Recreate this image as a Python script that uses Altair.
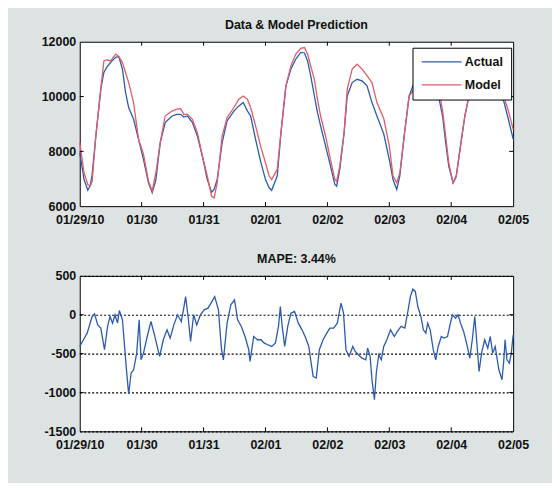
import altair as alt
import pandas as pd

# ---------------- data ----------------
tick_labels = ["01/29/10", "01/30", "01/31", "02/01", "02/02", "02/03", "02/04", "02/05"]

days = [0.00, 0.07, 0.13, 0.17, 0.20, 0.26, 0.34, 0.39, 0.44, 0.50, 0.58, 0.63, 0.69, 0.74,
        0.79, 0.87, 0.95, 1.03, 1.11, 1.17, 1.23, 1.30, 1.38, 1.49, 1.57, 1.63, 1.68, 1.74,
        1.82, 1.90, 1.98, 2.06, 2.13, 2.17, 2.22, 2.30, 2.38, 2.49, 2.57, 2.64, 2.71, 2.76,
        2.84, 2.92, 3.00, 3.06, 3.10, 3.19, 3.25, 3.33, 3.41, 3.49, 3.57, 3.63, 3.68, 3.73,
        3.79, 3.84, 3.89, 3.97, 4.05, 4.12, 4.15, 4.20, 4.27, 4.32, 4.40, 4.48, 4.56, 4.64,
        4.72, 4.80, 4.91, 5.00, 5.06, 5.12, 5.17, 5.24, 5.32, 5.40, 5.50, 5.60, 5.70, 5.80,
        5.86, 5.91, 5.96, 6.03, 6.08, 6.15, 6.22, 6.28, 6.40, 6.55, 6.70, 6.85, 6.92, 7.00]

actual = [7950, 6970, 6580, 6750, 7150, 8560, 10270, 10880, 11080, 11250, 11430, 11460, 11000, 10150,
          9600, 9170, 8440, 7700, 6850, 6490, 6970, 8320, 9050, 9290, 9350, 9350, 9250, 9290,
          9050, 8560, 7830, 6970, 6510, 6610, 6970, 8320, 9110, 9470, 9660, 9780, 9470, 9290,
          8440, 7640, 6970, 6670, 6580, 7100, 8680, 10390, 11000, 11370, 11610, 11590, 11300, 10760,
          10020, 9410, 8930, 8200, 7460, 6790, 6730, 7340, 8680, 10020, 10510, 10630, 10570, 10390,
          9780, 9290, 8640, 7700, 6970, 6610, 7100, 8560, 10020, 10500, 10750, 10650, 10450, 9960,
          9290, 8320, 7460, 6850, 7100, 8200, 9290, 9960, 10600, 10550, 10300, 9820, 9200, 8450]

model = [8320, 7220, 6790, 6730, 6900, 8560, 10270, 11300, 11340, 11300, 11550, 11460, 11240, 10880,
         10510, 9780, 8440, 7890, 6910, 6550, 7220, 8320, 9290, 9470, 9540, 9560, 9350, 9350,
         9170, 8680, 7830, 7100, 6360, 6300, 6850, 8560, 9230, 9600, 9900, 10020, 9900, 9600,
         8930, 8200, 7580, 7100, 6970, 7340, 8680, 10390, 11120, 11550, 11760, 11790, 11550, 11120,
         10630, 9900, 9290, 8560, 7700, 6970, 6910, 7460, 8680, 10270, 11000, 11180, 11000, 10760,
         10510, 9780, 9200, 8200, 7100, 6850, 7220, 8560, 10020, 10250, 10700, 10750, 10800, 10250,
         9500, 8560, 7580, 6850, 7050, 8200, 9290, 9960, 10900, 10950, 10800, 10000, 9500, 8800]

err_days = [0.00, 0.06, 0.12, 0.20, 0.24, 0.29, 0.34, 0.40, 0.45, 0.49, 0.53, 0.57, 0.61, 0.64,
            0.69, 0.75, 0.79, 0.83, 0.87, 0.92, 0.96, 0.99, 1.03, 1.09, 1.15, 1.20, 1.29, 1.35,
            1.41, 1.46, 1.52, 1.58, 1.64, 1.68, 1.71, 1.75, 1.79, 1.84, 1.89, 1.95, 2.01, 2.07,
            2.12, 2.18, 2.24, 2.29, 2.32, 2.38, 2.44, 2.50, 2.55, 2.61, 2.67, 2.73, 2.75, 2.81,
            2.87, 2.93, 2.98, 3.04, 3.10, 3.16, 3.21, 3.24, 3.27, 3.31, 3.36, 3.41, 3.47, 3.53,
            3.59, 3.64, 3.70, 3.73, 3.77, 3.82, 3.87, 3.93, 3.99, 4.04, 4.10, 4.16, 4.22, 4.26,
            4.30, 4.35, 4.41, 4.45, 4.50, 4.56, 4.62, 4.65, 4.69, 4.72, 4.76, 4.79, 4.83, 4.87,
            4.91, 4.96, 5.02, 5.08, 5.13, 5.19, 5.25, 5.30, 5.34, 5.38, 5.42, 5.46, 5.51, 5.55,
            5.59, 5.62, 5.66, 5.71, 5.75, 5.79, 5.84, 5.88, 5.94, 5.98, 6.02, 6.07, 6.11, 6.15,
            6.20, 6.26, 6.30, 6.34, 6.38, 6.41, 6.45, 6.49, 6.54, 6.59, 6.63, 6.67, 6.71, 6.77,
            6.82, 6.85, 6.87, 6.90, 6.94, 6.97, 7.00]

err_vals = [-408, -322, -237, -22, 12, -130, -172, -450, -150, -22, -108, 0, -108, 55,
            -65, -665, -1020, -750, -708, -494, -65, -580, -494, -280, -87, -237, -536, -322,
            -194, -300, -130, 0, -87, 85, 234, -22, -344, 0, -130, 0, 63, 85,
            149, 234, 63, -450, -580, -108, 127, 192, -65, -151, -280, -450, -600, -280,
            -322, -322, -365, -386, -408, -365, -150, 106, -150, -408, -150, 20, 42, -108,
            -194, -280, -408, -580, -794, -815, -450, -322, -237, -172, -172, -108, 149, 20,
            -450, -536, -408, -472, -515, -558, -580, -430, -536, -836, -1093, -750, -515, -580,
            -408, -322, -194, -280, -215, -150, -172, 42, 234, 329, 300, 106, -22, -194,
            -237, -108, -194, -450, -580, -408, -280, -300, -280, -130, 0, -44, 0, -108,
            -215, -408, -558, -322, -22, -322, -730, -494, -322, -430, -280, -494, -408, -708,
            -836, -580, -322, -580, -622, -494, -258]

top_yticks = [6000, 8000, 10000, 12000]
bot_yticks = [-1500, -1000, -500, 0, 500]
series_names = ["Actual", "Model"]

# ---------------- style ----------------
FONT = "Liberation Sans"
WEIGHT = "bold"
BLUE = "#2b5bb0"
RED = "#e25c68"
BG = "#dde3e2"
W, H1, H2 = 435, 165, 156
TICK = 4

label_expr = "[" + ",".join("'%s'" % t for t in tick_labels) + "][round(datum.value)]"


def x_enc():
    return alt.X("day:Q", scale=alt.Scale(domain=[0, 7], nice=False, zero=False),
                 axis=alt.Axis(values=list(range(len(tick_labels))), labelExpr=label_expr,
                               ticks=False, domain=False, grid=False, labelFlush=False,
                               labelPadding=7, title=None, labelFontSize=12.5,
                               labelFontWeight=WEIGHT, labelColor="#111111", labelFont=FONT,
                               labelOverlap=False))


def y_enc(dom, vals, grid):
    ax = dict(values=vals, labelExpr="'' + round(datum.value)", ticks=False, domain=False,
              labelFlush=False, labelPadding=4, title=None, labelFontSize=12.5,
              labelColor="#111111", labelFontWeight=WEIGHT, labelFont=FONT,
              minExtent=40, maxExtent=40, grid=grid)
    if grid:
        ax.update(gridColor="black", gridDash=[2, 2], gridWidth=1.2, gridOpacity=1)
    return alt.Y("value:Q", scale=alt.Scale(domain=dom, nice=False, zero=False),
                 axis=alt.Axis(**ax))


def tick_layers(ydom, yvals, ygrid, h):
    inner_x = pd.DataFrame({"day": list(range(1, len(tick_labels) - 1))})
    inner_y = pd.DataFrame({"value": yvals[1:-1]})
    base_x = alt.Chart(inner_x).mark_rule(color="black", strokeWidth=1)
    base_y = alt.Chart(inner_y).mark_rule(color="black", strokeWidth=1)
    return [
        base_x.encode(x=x_enc(), y=alt.value(0), y2=alt.value(TICK)),
        base_x.encode(x=x_enc(), y=alt.value(h - TICK), y2=alt.value(h)),
        base_y.encode(y=y_enc(ydom, yvals, ygrid), x=alt.value(0), x2=alt.value(TICK)),
        base_y.encode(y=y_enc(ydom, yvals, ygrid), x=alt.value(W - TICK), x2=alt.value(W)),
    ]


def title(text):
    return alt.TitleParams(text, anchor="middle", frame="group", baseline="bottom", offset=-9,
                           fontSize=12.5, font=FONT, fontWeight=WEIGHT, color="#111111")


# ---------------- top panel ----------------
top_df = pd.DataFrame({
    "day": days * 2,
    "value": actual + model,
    "series": ["Actual"] * len(days) + ["Model"] * len(days),
})

color = alt.Color("series:N",
                  scale=alt.Scale(domain=series_names, range=[BLUE, RED]),
                  legend=alt.Legend(orient="none", legendX=334, legendY=6, title=None,
                                    fillColor="white", strokeColor="black", padding=8,
                                    symbolType="M-1,0L7,0", symbolSize=100,
                                    symbolStrokeWidth=1.3, labelOffset=32, rowPadding=10,
                                    labelFontSize=12.5, labelFontWeight=WEIGHT, labelFont=FONT,
                                    labelColor="#111111", labelBaseline="middle"))

ydom_top = [top_yticks[0], top_yticks[-1]]
line_a = alt.Chart(top_df).transform_filter(alt.datum.series == "Actual").mark_line(
    strokeWidth=1.3).encode(x=x_enc(), y=y_enc(ydom_top, top_yticks, False), color=color)
line_m = alt.Chart(top_df).transform_filter(alt.datum.series == "Model").mark_line(
    strokeWidth=1.3).encode(x=x_enc(), y=y_enc(ydom_top, top_yticks, False), color=color)

top = alt.layer(line_a, line_m, *tick_layers(ydom_top, top_yticks, False, H1)).properties(
    width=W, height=H1, title=title("Data & Model Prediction"))

# ---------------- bottom panel ----------------
bot_df = pd.DataFrame({"day": err_days, "value": err_vals})
ydom_bot = [bot_yticks[0], bot_yticks[-1]]
err_line = alt.Chart(bot_df).mark_line(strokeWidth=1.3, color=BLUE).encode(
    x=x_enc(), y=y_enc(ydom_bot, bot_yticks, True))

bottom = alt.layer(err_line, *tick_layers(ydom_bot, bot_yticks, True, H2)).properties(
    width=W, height=H2, title=title("MAPE: 3.44%"))

chart = alt.vconcat(top, bottom, spacing=27).properties(
    padding={"left": 31, "right": 22, "top": 10, "bottom": 31}
).configure(background=BG).configure_view(fill="white", stroke="black", strokeWidth=1)

chart.save("out.html", embed_options={"renderer": "svg", "actions": False})
